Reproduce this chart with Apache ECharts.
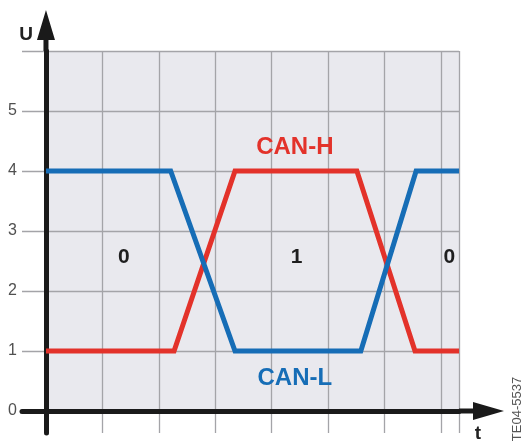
<!DOCTYPE html>
<html>
<head>
<meta charset="utf-8">
<script src="https://cdn.jsdelivr.net/npm/echarts@6/dist/echarts.min.js"></script>
<style>
  html, body { margin: 0; padding: 0; background: #fff; }
  #chart { width: 525px; height: 444px; }
</style>
</head>
<body>
<div id="chart"></div>
<script>
// t in grid units, U in volts
const canH = [[0, 1], [2.27, 1], [3.35, 4], [5.51, 4], [6.54, 1], [7.32, 1]];
const canL = [[0, 4], [2.21, 4], [3.35, 1], [5.58, 1], [6.56, 4], [7.32, 4]];
const bitLabels = [['0', 1.38, 2.56], ['1', 4.44, 2.56], ['0', 7.15, 2.56]];
const signalNames = [['CAN-H', 4.41, 4.4], ['CAN-L', 4.41, 0.54]];
const yTickLabels = [0, 1, 2, 3, 4, 5];
const xRange = [-0.425, 7.32];
const yRange = [-0.367, 6];

const RED = '#e3322a';
const BLUE = '#166db6';
const FONT = 'Liberation Sans, Arial, sans-serif';

let chart = echarts.init(document.getElementById('chart'));

// text marks at data coords, drawn as labels of invisible points
function textSeries(items, colors, size) {
  return {
    type: 'scatter',
    z: 6,
    symbolSize: 0,
    silent: true,
    itemStyle: { opacity: 1 },
    data: items.map((d, i) => ({
      value: [d[1], d[2]],
      label: {
        show: true,
        position: 'inside',
        formatter: d[0],
        color: colors[i],
        fontSize: size,
        fontWeight: 'bold',
        fontFamily: FONT
      }
    }))
  };
}

let option = {
  animation: false,
  grid: { left: 22, right: 66, top: 51, bottom: 11, containLabel: false, outerBoundsMode: 'none' },
  xAxis: {
    type: 'value',
    z: 3,
    min: xRange[0],
    max: xRange[1],
    minInterval: 1,
    maxInterval: 1,
    splitNumber: 8,
    name: 't',
    nameLocation: 'end',
    nameGap: 19,
    nameTextStyle: {
      fontSize: 19, fontWeight: 'bold', color: '#222', fontFamily: FONT,
      align: 'center', verticalAlign: 'top', padding: [13, 0, 0, 0]
    },
    axisLine: {
      onZero: true,
      lineStyle: { color: '#1a1a1a', width: 5 },
      symbol: ['none', 'path://M9 0L18 31L11.5 31L11.5 45L6.5 45L6.5 31L0 31Z'],
      symbolSize: [18, 45],
      symbolOffset: [0, 22.5]
    },
    axisTick: { show: false },
    axisLabel: { show: false },
    splitLine: { show: true, showMinLine: false, lineStyle: { color: '#a4a4a8', width: 1.3 } }
  },
  yAxis: {
    type: 'value',
    z: 3,
    min: yRange[0],
    max: yRange[1],
    minInterval: 1,
    maxInterval: 1,
    splitNumber: 7,
    name: 'U',
    nameLocation: 'end',
    nameGap: 16,
    nameTextStyle: {
      fontSize: 19, fontWeight: 'bold', color: '#222', fontFamily: FONT,
      align: 'right', verticalAlign: 'middle', padding: [0, 13, 0, 0]
    },
    axisLine: {
      onZero: true,
      lineStyle: { color: '#1a1a1a', width: 5 },
      symbol: ['none', 'path://M9 0L18 30L11.5 30L11.5 41L6.5 41L6.5 30L0 30Z'],
      symbolSize: [18, 41],
      symbolOffset: [0, 20.5]
    },
    axisTick: { show: false },
    axisLabel: {
      margin: 5,
      fontSize: 16,
      color: '#505050',
      fontFamily: FONT,
      formatter: (v) => {
        let r = Math.round(v);
        return (Math.abs(v - r) < 1e-6 && yTickLabels.indexOf(r) >= 0) ? String(r) : '';
      }
    },
    splitLine: { show: true, showMinLine: false, lineStyle: { color: '#a4a4a8', width: 1.3 } }
  },
  series: [
    {
      name: 'CAN-H',
      type: 'line',
      z: 5,
      data: canH,
      showSymbol: false,
      lineStyle: { color: RED, width: 5, join: 'miter' },
      // grey plot background, first quadrant only
      markArea: {
        silent: true,
        itemStyle: { color: '#e9e9ee' },
        data: [[{ coord: [0, 0] }, { coord: [xRange[1], yRange[1]] }]]
      }
    },
    {
      name: 'CAN-L',
      type: 'line',
      z: 5,
      data: canL,
      showSymbol: false,
      lineStyle: { color: BLUE, width: 5, join: 'miter' }
    },
    textSeries(bitLabels, ['#1e1e1e', '#1e1e1e', '#1e1e1e'], 21),
    textSeries(signalNames, [RED, BLUE], 24)
  ],
  graphic: [
    {
      type: 'text',
      x: 517,
      y: 409,
      rotation: Math.PI / 2,
      style: {
        text: 'TE04-5537',
        fontSize: 13,
        fontFamily: FONT,
        fill: '#555',
        align: 'center',
        verticalAlign: 'middle'
      }
    }
  ]
};

chart.setOption(option);
</script>
</body>
</html>
